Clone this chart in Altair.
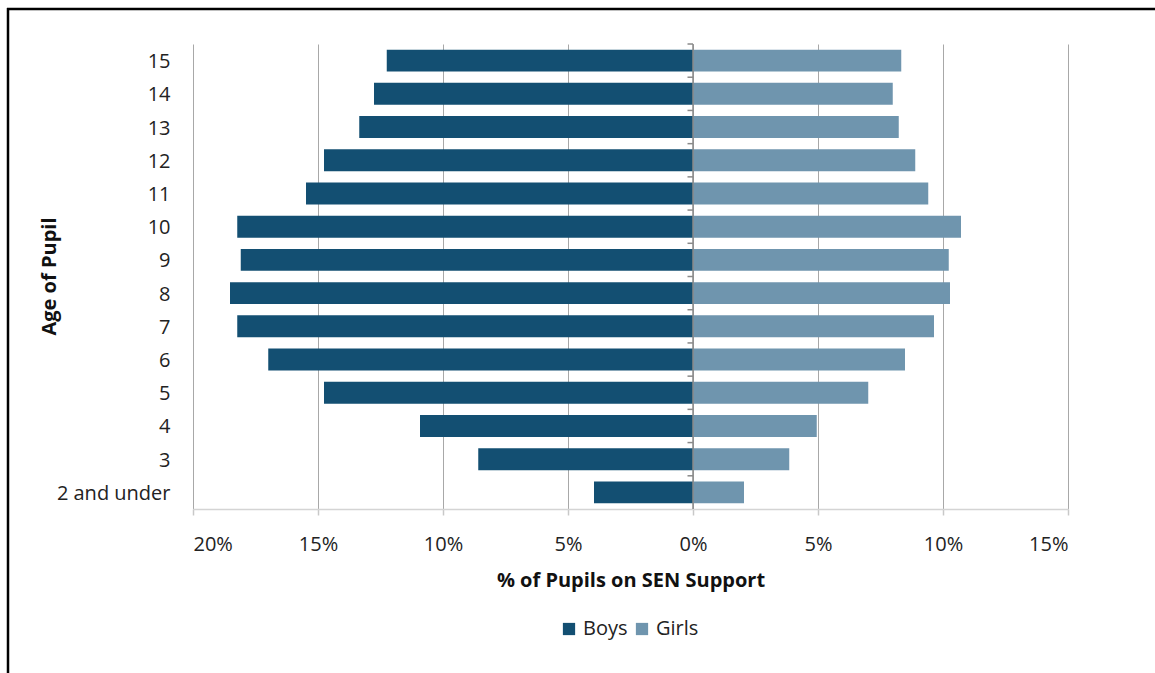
import altair as alt
import pandas as pd

ages = ["15", "14", "13", "12", "11", "10", "9", "8", "7", "6", "5", "4", "3", "2 and under"]
boys = [12.25, 12.76, 13.35, 14.76, 15.48, 18.23, 18.09, 18.52, 18.23, 16.99, 14.76, 10.92, 8.59, 3.96]
girls = [8.33, 7.99, 8.23, 8.89, 9.41, 10.72, 10.23, 10.28, 9.64, 8.48, 7.01, 4.95, 3.85, 2.04]
x_ticks = [-20, -15, -10, -5, 0, 5, 10, 15]

rows = []
for a, b, g in zip(ages, boys, girls):
    rows.append({"Age": a, "Sex": "Boys", "Value": -b})
    rows.append({"Age": a, "Sex": "Girls", "Value": g})
df = pd.DataFrame(rows)

FONT = "Open Sans"
W, H = 875, 465

y_enc = alt.Y("Age:N", sort=ages,
              scale=alt.Scale(paddingInner=0.34, paddingOuter=0.17),
              axis=alt.Axis(title="Age of Pupil", domain=False, ticks=False, grid=False,
                            labelPadding=23, labelOffset=1.5, labelFontSize=20, labelFont=FONT,
                            labelColor="#222222",
                            titleFont=FONT, titleFontSize=20, titleFontWeight="bold", titleColor="#111111",
                            titleX=-144, titleY=232, titleAngle=270, titleAlign="center",
                            titleBaseline="middle"))

x_scale = alt.Scale(domain=[-20, 15], nice=False, zero=False)

bars = alt.Chart(df).mark_bar(stroke=None).encode(
    x=alt.X("Value:Q", scale=x_scale, stack=None,
            axis=alt.Axis(values=x_ticks, title="% of Pupils on SEN Support",
                          labelExpr="abs(datum.value) + '%'",
                          grid=True, gridColor="#a8a8a8", gridWidth=1,
                          domainColor="#d4d4d4", domainWidth=1.5,
                          tickColor="#c8c8c8", tickSize=6, tickWidth=1.5,
                          labelPadding=19, labelFontSize=20, labelFont=FONT, labelColor="#222222",
                          titleFont=FONT, titleFontSize=20, titleFontWeight="bold", titleColor="#111111",
                          titleY=71, titleBaseline="middle")),
    y=y_enc,
    color=alt.Color("Sex:N",
                    scale=alt.Scale(domain=["Boys", "Girls"], range=["#134f72", "#6f95ae"]),
                    legend=alt.Legend(title=None, orient="none", direction="horizontal",
                                      legendX=366, legendY=575, symbolType="square",
                                      symbolSize=150, symbolStrokeWidth=0,
                                      labelFont=FONT, labelFontSize=20, labelColor="#222222",
                                      labelOffset=4, columnPadding=4, padding=0)),
)

zero_line = alt.Chart(pd.DataFrame({"v": [0]})).mark_rule(color="#8a8a8a", strokeWidth=1.5).encode(
    x=alt.datum(0, scale=x_scale)
)

zero_ticks = alt.Chart(pd.DataFrame({"Age": ages})).mark_rule(
    color="#8a8a8a", strokeWidth=1.5, yOffset=-16.6
).encode(
    x=alt.datum(-0.22), x2=alt.datum(0), y=y_enc
)

frame_df = pd.DataFrame({"v": [0]})
frame_left = alt.Chart(frame_df).mark_rule(color="#000000", strokeWidth=2.5).encode(
    x=alt.value(-185), y=alt.value(-36), y2=alt.value(640)
)
frame_top = alt.Chart(frame_df).mark_rule(color="#000000", strokeWidth=2.5).encode(
    x=alt.value(-186), x2=alt.value(980), y=alt.value(-35)
)

chart = alt.layer(bars, zero_line, zero_ticks, frame_left, frame_top).properties(
    width=W, height=H,
    autosize=alt.AutoSizeParams(type="none"),
    padding={"left": 193, "top": 44, "right": 87, "bottom": 164},
    background="white",
).configure_view(stroke=None)

chart.save("out.html", embed_options={"renderer": "svg", "actions": False})
